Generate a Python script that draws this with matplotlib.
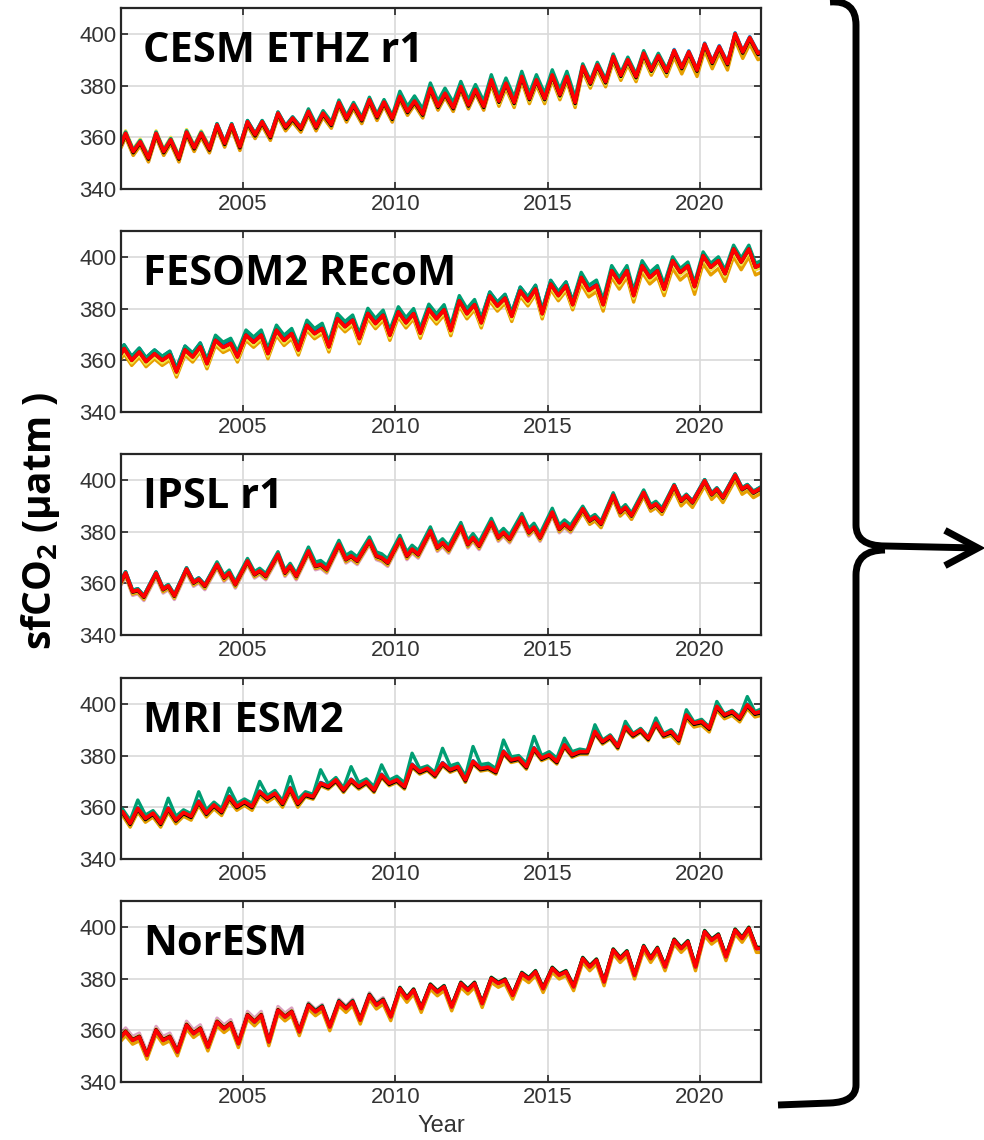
import numpy as np
import matplotlib.pyplot as plt
from matplotlib.path import Path
from matplotlib.patches import PathPatch

plt.rcParams['font.family'] = ['Liberation Sans', 'DejaVu Sans']
plt.rcParams['mathtext.fontset'] = 'custom'
plt.rcParams['mathtext.rm'] = 'Open Sans'
plt.rcParams['mathtext.bf'] = 'Open Sans:bold'

years = np.arange(2001, 2022)
models = ["CESM ETHZ r1", "FESOM2 REcoM", "IPSL r1", "MRI ESM2", "NorESM"]

# position inside each year of the four turning points of the wiggle
phase = {
    "CESM ETHZ r1": [0.15, 0.40, 0.63, 0.90],
    "FESOM2 REcoM": [0.10, 0.35, 0.60, 0.82],
    "IPSL r1": [0.15, 0.38, 0.55, 0.75],
    "MRI ESM2": [0.05, 0.30, 0.55, 0.80],
    "NorESM": [0.15, 0.38, 0.60, 0.85],
}

# red curve, turning points per year (uatm)
red_cesm = [[361.5, 354.5, 358.3, 352.0], [361.5, 354.5, 359.0, 352.0], [362.0, 356.0, 361.5, 355.5],
            [364.8, 357.7, 364.8, 356.4], [366.0, 361.0, 366.0, 360.3], [369.3, 364.0, 367.4, 363.5],
            [370.0, 364.0, 369.3, 365.0], [373.4, 367.4, 372.5, 366.8], [374.5, 368.0, 373.6, 367.4],
            [375.8, 370.0, 374.0, 369.0], [379.0, 372.0, 377.0, 371.5], [379.6, 372.5, 378.4, 372.0],
            [382.2, 374.0, 380.9, 373.5], [383.5, 375.0, 382.2, 375.0], [384.1, 376.5, 383.5, 373.5],
            [387.4, 381.0, 388.0, 381.5], [391.2, 384.0, 390.0, 383.5], [392.5, 386.0, 391.5, 385.5],
            [393.5, 387.0, 393.0, 386.0], [396.0, 389.0, 395.0, 388.5], [400.0, 393.0, 398.5, 392.5]]
red_fesom = [[364.5, 360.0, 363.2, 359.5], [362.5, 360.0, 362.0, 355.5], [364.0, 361.3, 365.2, 358.7],
             [367.7, 365.0, 366.5, 361.3], [369.7, 367.0, 369.7, 362.6], [371.6, 367.7, 370.3, 364.0],
             [373.5, 370.3, 372.3, 365.2], [376.1, 373.0, 375.5, 368.4], [378.1, 374.2, 377.4, 369.7],
             [378.7, 374.5, 378.0, 370.5], [379.7, 376.0, 379.5, 371.5], [383.0, 378.0, 381.5, 374.5],
             [384.9, 381.0, 384.0, 377.0], [386.8, 383.0, 387.5, 378.0], [389.4, 385.0, 388.8, 381.5],
             [392.0, 387.0, 389.0, 381.5], [394.6, 390.0, 394.6, 385.0], [396.5, 392.0, 394.6, 387.5],
             [398.5, 394.0, 396.5, 388.5], [400.4, 396.0, 398.5, 393.5], [403.0, 398.0, 403.0, 396.0]]
red_ipsl = [[364.0, 356.8, 357.4, 354.8], [363.9, 357.7, 359.0, 355.2], [365.5, 360.3, 361.6, 359.0],
            [367.3, 362.2, 364.1, 359.6], [368.6, 363.5, 364.8, 362.8], [371.2, 364.1, 366.7, 362.8],
            [372.5, 366.7, 367.3, 365.4], [375.1, 369.3, 370.6, 368.7], [376.4, 370.6, 369.9, 368.0],
            [377.0, 370.6, 373.2, 371.2], [380.3, 373.8, 375.7, 373.1], [382.0, 375.1, 377.7, 374.5],
            [383.6, 377.7, 379.7, 377.1], [385.5, 379.7, 381.7, 377.7], [387.5, 381.0, 383.0, 381.0],
            [388.8, 384.3, 385.6, 383.0], [394.0, 387.5, 389.4, 386.2], [395.1, 389.4, 390.7, 388.1],
            [397.7, 391.9, 393.9, 391.3], [399.6, 394.4, 396.4, 393.2], [401.8, 396.4, 397.7, 395.1]]
red_mri = [[358.3, 353.8, 359.6, 355.7], [357.7, 353.8, 359.6, 355.1], [358.0, 356.5, 362.2, 357.7],
           [360.9, 358.3, 364.1, 360.3], [362.2, 360.3, 366.0, 363.5], [365.4, 361.5, 367.4, 361.5],
           [365.0, 364.1, 369.3, 368.0], [370.6, 366.7, 370.6, 368.0], [369.9, 366.7, 372.5, 369.3],
           [370.6, 368.0, 376.4, 373.8], [375.1, 372.5, 377.0, 374.5], [375.7, 370.6, 377.7, 375.0],
           [375.5, 373.8, 381.5, 378.3], [379.0, 375.7, 382.8, 379.0], [380.3, 377.7, 384.1, 380.3],
           [381.5, 381.5, 389.3, 385.4], [387.4, 383.5, 391.2, 388.0], [389.9, 386.7, 392.5, 388.0],
           [389.3, 386.1, 395.7, 392.5], [393.2, 390.6, 399.0, 395.7], [397.0, 394.5, 399.6, 396.4]]
red_noresm = [[359.4, 356.1, 357.4, 350.3], [360.0, 356.1, 357.4, 351.6], [362.0, 358.7, 360.6, 353.5],
              [363.2, 360.6, 362.6, 354.8], [365.8, 363.2, 365.8, 355.5], [367.7, 365.1, 367.1, 359.4],
              [369.7, 367.1, 369.0, 361.3], [371.0, 368.4, 371.0, 363.9], [373.5, 369.7, 371.6, 365.2],
              [376.1, 372.3, 375.5, 368.4], [377.4, 374.8, 376.8, 369.0], [378.1, 375.5, 378.1, 370.3],
              [380.0, 378.1, 379.4, 373.5], [381.9, 379.9, 382.6, 376.1], [383.9, 381.3, 382.6, 376.8],
              [387.7, 384.5, 387.1, 378.7], [391.0, 387.7, 390.3, 381.3], [392.3, 387.7, 391.6, 384.5],
              [394.8, 391.6, 394.2, 384.5], [398.1, 394.8, 396.8, 388.4], [398.7, 395.5, 399.4, 391.6]]
red_curves = {"CESM ETHZ r1": red_cesm, "FESOM2 REcoM": red_fesom, "IPSL r1": red_ipsl,
              "MRI ESM2": red_mri, "NorESM": red_noresm}
start_vals = {"CESM ETHZ r1": 357.5, "FESOM2 REcoM": 362.5, "IPSL r1": 360.8, "MRI ESM2": 358.3, "NorESM": 357.4}
end_vals = {"CESM ETHZ r1": 393.0, "FESOM2 REcoM": 397.0, "IPSL r1": 396.8, "MRI ESM2": 397.0, "NorESM": 391.6}

# MRI green member has its own (much larger) mid-year peaks
green_mri = [[359.3, 355.0, 362.8, 357.0], [358.7, 355.0, 363.5, 356.5], [359.0, 357.5, 366.0, 359.0],
             [362.0, 359.5, 367.4, 361.5], [363.2, 361.5, 370.0, 364.5], [366.5, 362.5, 371.9, 363.0],
             [366.0, 365.0, 374.5, 369.0], [371.5, 367.5, 375.7, 369.5], [371.0, 368.0, 376.4, 370.5],
             [372.0, 369.5, 380.9, 375.0], [376.0, 373.5, 382.8, 376.0], [377.0, 372.0, 383.5, 376.5],
             [377.0, 375.0, 386.0, 379.5], [380.0, 377.0, 387.4, 380.0], [381.5, 379.0, 386.7, 381.5],
             [382.5, 382.0, 391.9, 386.0], [388.0, 384.0, 393.2, 388.5], [390.5, 387.0, 394.5, 388.5],
             [390.0, 386.5, 397.7, 393.0], [394.0, 391.0, 400.9, 396.0], [397.5, 395.0, 402.8, 397.0]]

# offset of each member from the red curve, read in 3-year blocks (2001-03 ... 2019-21)
offsets = {
    "CESM ETHZ r1": {"pink": [-1.5, -1.5, -1.5, -1.5, -1, -1, -1], "orange": [-1.5, -1.5, -1.5, -1.5, -2, -2, -2.5],
                     "yellow": [1, 0, -0.5, -0.5, -1, -1, -0.5], "sky": [0.5] * 7, "blue": [0.3] * 7,
                     "green": [0.5, 0.5, 1, 2, 2, 1, 0], "black": [-0.5] * 7},
    "FESOM2 REcoM": {"pink": [-1] * 7, "orange": [-2, -2, -2, -2, -2, -2.5, -3], "yellow": [-1] * 7,
                     "sky": [0.5] * 7, "blue": [1.5, 1, 1, 1, 1.5, 0.5, 0], "green": [1.5, 2, 2, 2, 1.5, 2, 1.5],
                     "black": [0] * 7},
    "IPSL r1": {"pink": [-1.5] * 7, "orange": [-1, -1, -1, -1, -1, -1.5, -2], "yellow": [-0.5] * 7,
                "sky": [0.3] * 7, "blue": [0.5] * 7, "green": [0.5, 1, 1.5, 1.5, 1.5, 1, 0.5], "black": [-0.3] * 7},
    "MRI ESM2": {"pink": [-0.5] * 7, "orange": [-1.5, -1.5, -1, -1, -1, -1, -1.5], "yellow": [-0.5] * 7,
                 "sky": [0.3] * 7, "blue": [0.3] * 7, "black": [-0.5] * 7},
    "NorESM": {"pink": [1.5, 1.5, 1, 0.5, 0, 0, 0], "orange": [-1.5] * 7, "yellow": [0.5] * 7,
               "sky": [0] * 7, "blue": [0] * 7, "green": [0, 0, 0.5, 0.5, 0.5, 0.5, 0.5], "black": [0.3] * 7},
}

member_colors = {"pink": "#CC79A7", "orange": "#E69F00", "yellow": "#F0E442", "sky": "#56B4E9",
                 "blue": "#0072B2", "green": "#009E73", "black": "#000000"}
draw_order = ["pink", "orange", "yellow", "sky", "blue", "green", "black"]

fig = plt.figure(figsize=(9.84, 11.4), dpi=100)
bottoms = [0.8342, 0.6386, 0.4430, 0.2465, 0.0509]
gray = "#262626"

for i, m in enumerate(models):
    ax = fig.add_axes([0.1230, bottoms[i], 0.6504, 0.1588])
    t = [2001.0]
    for y in years:
        t += [y + p for p in phase[m]]
    t.append(2022.0)
    t = np.array(t)
    red = np.array([start_vals[m]] + [v for row in red_curves[m] for v in row] + [end_vals[m]])
    block = np.minimum(((t - 2001) // 3).astype(int), 6)
    for c in draw_order:
        if m == "MRI ESM2" and c == "green":
            vals = np.array([red[0] + 1] + [v for row in green_mri for v in row] + [red[-1] + 1])
        else:
            vals = red + np.array(offsets[m][c])[block]
        alpha = 0.7 if c == "pink" else 1.0
        ax.plot(t, vals, color=member_colors[c], lw=2.4, alpha=alpha,
                solid_capstyle='round', solid_joinstyle='round')
    ax.plot(t, red, color="#FF0000", lw=2.7, solid_joinstyle='round')

    ax.set_xlim(2001, 2022)
    ax.set_ylim(340, 410)
    ax.set_xticks([2005, 2010, 2015, 2020])
    ax.set_yticks([340, 360, 380, 400])
    ax.grid(True, color="#d9d9d9", lw=1.2)
    ax.set_axisbelow(True)
    ax.tick_params(direction='in', top=True, right=True, length=5, width=1.2, colors=gray,
                   labelsize=16, labelcolor="#333333")
    for s in ax.spines.values():
        s.set_color(gray)
        s.set_linewidth(1.6)
    ax.text(0.034, 0.70, m, transform=ax.transAxes, fontsize=30, fontweight='bold',
            family='Open Sans', va='baseline', ha='left', color='black')
    if i == 4:
        ax.set_xlabel("Year", fontsize=17, color="#333333", labelpad=5)

fig.text(0.041, 1 - 521 / 1140, "sfCO$_\\mathbf{2}$ (µatm )", rotation=90, fontsize=28,
         fontweight='bold', family='Open Sans', ha='center', va='center')

# brace and arrow, drawn in pixel coordinates on an overlay
ov = fig.add_axes([0, 0, 1, 1])
ov.set_xlim(0, 984)
ov.set_ylim(1140, 0)
ov.axis('off')
ov.patch.set_alpha(0)
upper = Path([(830, 2), (856, 0), (856, 25), (856, 525), (856, 546), (885, 546), (978, 548)],
             [Path.MOVETO, Path.CURVE3, Path.CURVE3, Path.LINETO, Path.CURVE3, Path.CURVE3, Path.LINETO])
lower = Path([(885, 550), (856, 550), (856, 575), (856, 1085), (856, 1102), (830, 1103), (778, 1105)],
             [Path.MOVETO, Path.CURVE3, Path.CURVE3, Path.LINETO, Path.CURVE3, Path.CURVE3, Path.LINETO])
for p in [upper, lower]:
    ov.add_patch(PathPatch(p, fill=False, lw=5, color='black', capstyle='butt'))
ov.plot([948, 978, 948], [532, 548, 564], color='black', lw=5, solid_joinstyle='miter')

fig.savefig("out.png", dpi=100)
